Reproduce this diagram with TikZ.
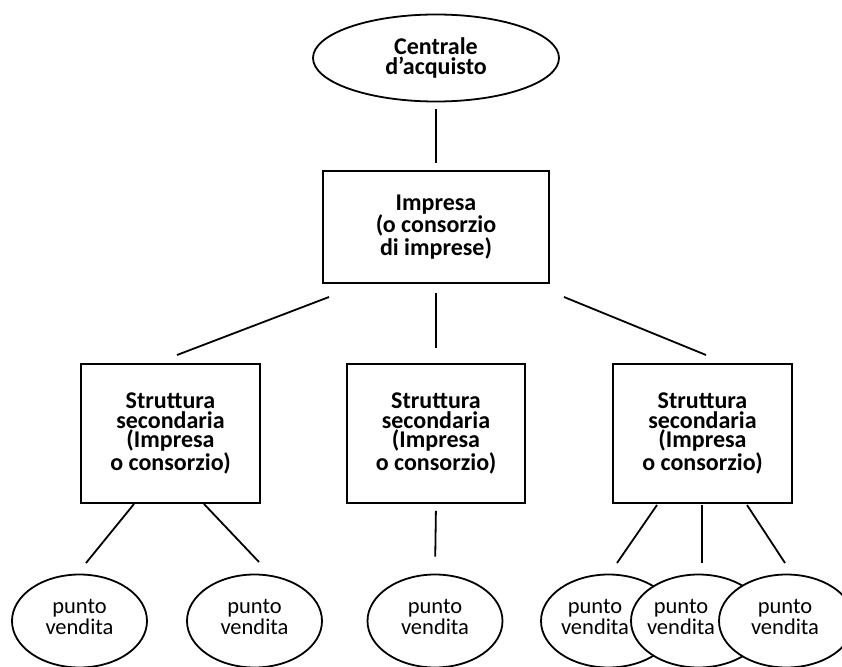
\documentclass[tikz,border=0pt]{standalone}
\usepackage{fontspec}
\setmainfont{Carlito}
\usetikzlibrary{shapes.geometric}

\begin{document}
\begin{tikzpicture} [x = 1pt, y = -1pt,
     ovale/.style = {draw, ellipse, line width=1.8pt, fill=white, inner sep=0pt},
     scatola/.style = {draw, rectangle, line width=1.8pt, inner sep=0pt, align=center, font=\bfseries\fontsize{24}{19.7}\selectfont},
     ramo/.style = {line width=1.8pt},
     scritta/.style = {align=center, font=\fontsize{22.5}{18}\selectfont}]
     \useasboundingbox (0,0) rectangle (842,666);

     % livello 1
     \node [ovale, minimum width=246, minimum height=87, align=center, font=\bfseries\fontsize{24}{20}\selectfont] (centrale) at (436,58) {Centrale\\d’acquisto};
     \node [scatola, minimum width=226, minimum height=112] (impresa) at (436,227) {Impresa\\(o consorzio\\di imprese)};

     % strutture secondarie
     \node [scatola, minimum width=179, minimum height=139] (sec1) at (170.5,433.5) {Struttura\\secondaria\\(Impresa\\o consorzio)};
     \node [scatola, minimum width=178, minimum height=139] (sec2) at (436,433.5) {Struttura\\secondaria\\(Impresa\\o consorzio)};
     \node [scatola, minimum width=179, minimum height=139] (sec3) at (702.5,433.5) {Struttura\\secondaria\\(Impresa\\o consorzio)};

     % punti vendita
     \node [ovale, minimum width=135, minimum height=93] (pv1) at (79.5,621) {};
     \node [scritta] (t1) at (79.5,617) {punto\\vendita};
     \node [ovale, minimum width=135, minimum height=93] (pv2) at (254.5,621) {};
     \node [scritta] (t2) at (254.5,617) {punto\\vendita};
     \node [ovale, minimum width=135, minimum height=93] (pv3) at (435,621) {};
     \node [scritta] (t3) at (435,617) {punto\\vendita};
     \node [ovale, minimum width=135, minimum height=93] (pv4) at (608.5,621) {};
     \node [scritta] (t4) at (595,617) {punto\\vendita};
     \node [ovale, minimum width=135, minimum height=93] (pv5) at (698.5,621) {};
     \node [scritta] (t5) at (681,617) {punto\\vendita};
     \node [ovale, minimum width=135, minimum height=93] (pv6) at (786.5,621) {};
     \node [scritta] (t6) at (785,617) {punto\\vendita};

     % collegamenti
     \coordinate (a1) at (329,297);  \coordinate (a2) at (177,355);
     \coordinate (b1) at (564,297);  \coordinate (b2) at (706,355);
     \coordinate (c1) at (134,504);  \coordinate (c2) at (86,563);
     \coordinate (d1) at (204,504);  \coordinate (d2) at (259,562);
     \coordinate (e1) at (657,505);  \coordinate (e2) at (617,563);
     \coordinate (f1) at (702,505);  \coordinate (f2) at (702,563);
     \coordinate (g1) at (747,505);  \coordinate (g2) at (785,563);

     \draw [ramo, shorten <=7pt, shorten >=7pt] (centrale.south) -- (impresa.north);
     \draw [ramo, shorten <=9pt, shorten >=15pt] (impresa.south) -- (sec2.north);
     \draw [ramo, shorten <=7pt, shorten >=17pt] (sec2.south) -- (pv3.north);
     \draw [ramo] (a1) -- (a2);
     \draw [ramo] (b1) -- (b2);
     \draw [ramo] (c1) -- (c2);
     \draw [ramo] (d1) -- (d2);
     \draw [ramo] (e1) -- (e2);
     \draw [ramo] (f1) -- (f2);
     \draw [ramo] (g1) -- (g2);
\end{tikzpicture}
\end{document}
